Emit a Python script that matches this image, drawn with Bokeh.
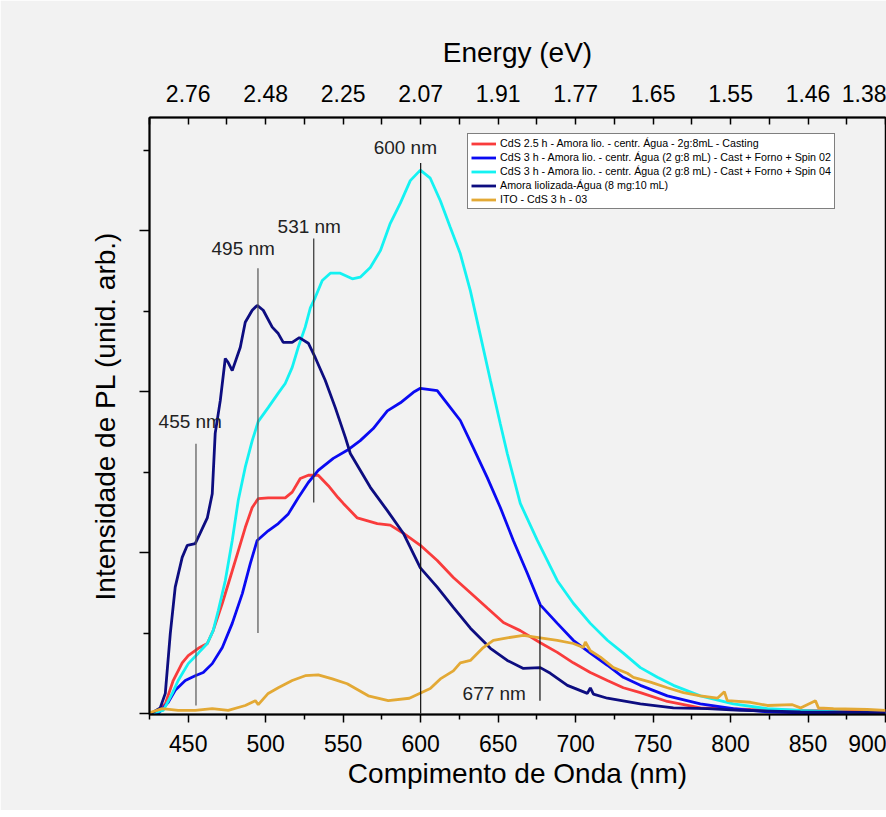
from bokeh.plotting import figure
from bokeh.models import Range1d, LinearAxis, FixedTicker
from bokeh.embed import file_html
from bokeh.resources import INLINE
from bokeh.core.properties import value

# ---------------- data (wavelength nm, PL intensity arb. units) ----------------
red_nm = [425, 428.7, 435.2, 440.3, 446.1, 450.0, 456.5, 462.3, 466.1, 472.0, 477.1, 482.3, 486.8,
          491.3, 495.2, 501.6, 508.1, 512.6, 517.1, 522.3, 527.5, 533.9, 540.4, 546.8, 550.1, 559.1,
          572.0, 580.4, 588.8, 599.8, 610.7, 621.1, 632.1, 643.0, 653.4, 664.3, 677.2, 688.2, 698.5,
          709.5, 720.5, 730.8, 741.8, 759.2, 780.5, 812.8, 845.1, 900]
red_i = [0.0, 0.01, 0.12, 0.41, 0.63, 0.72, 0.81, 0.87, 1.03, 1.37, 1.69, 2.02, 2.31,
         2.56, 2.67, 2.68, 2.68, 2.68, 2.75, 2.92, 2.96, 2.96, 2.83, 2.68, 2.61, 2.43,
         2.36, 2.34, 2.24, 2.09, 1.90, 1.69, 1.50, 1.31, 1.13, 1.03, 0.88, 0.76, 0.63,
         0.51, 0.41, 0.32, 0.26, 0.15, 0.07, 0.05, 0.04, 0.02]

blue_nm = [425, 430.6, 437.1, 441.6, 448.1, 454.5, 459.7, 465.5, 472.0, 478.4, 484.9, 490.0, 494.5,
           501.6, 508.1, 514.6, 521.0, 527.5, 533.9, 543.6, 552.6, 561.0, 569.4, 578.5, 586.9, 595.3,
           599.8, 610.7, 617.2, 625.6, 634.0, 643.0, 651.4, 659.8, 668.9, 677.2, 688.2, 698.5, 709.5,
           720.5, 730.8, 741.8, 759.2, 780.5, 801.8, 823.8, 845.1, 900]
blue_i = [0.0, 0.0, 0.14, 0.29, 0.41, 0.47, 0.51, 0.62, 0.82, 1.12, 1.49, 1.86, 2.15,
          2.27, 2.36, 2.48, 2.68, 2.87, 3.02, 3.17, 3.27, 3.39, 3.54, 3.76, 3.86, 3.99,
          4.04, 4.01, 3.85, 3.64, 3.30, 2.93, 2.56, 2.15, 1.74, 1.35, 1.12, 0.91, 0.75,
          0.60, 0.45, 0.35, 0.22, 0.12, 0.06, 0.02, 0.01, 0.01]

cyan_nm = [425, 433.9, 439.7, 443.5, 450.0, 456.5, 462.3, 466.1, 469.4, 473.9, 478.4, 482.3, 486.8,
           491.3, 495.2, 501.6, 508.1, 512.6, 517.1, 521.0, 525.5, 528.8, 532.0, 536.5, 541.7, 548.1,
           555.9, 561.0, 567.5, 574.0, 580.4, 586.9, 593.3, 599.8, 606.2, 612.7, 619.1, 625.6, 632.1,
           638.5, 645.0, 651.4, 655.9, 664.3, 675.3, 688.2, 698.5, 709.5, 720.5, 730.8, 741.8, 752.8,
           763.1, 780.5, 801.8, 823.8, 845.1, 900]
cyan_i = [0.0, 0.04, 0.25, 0.41, 0.62, 0.75, 0.87, 1.03, 1.28, 1.65, 2.15, 2.65, 3.06,
          3.39, 3.63, 3.80, 3.98, 4.10, 4.30, 4.55, 4.80, 5.04, 5.17, 5.38, 5.47, 5.47,
          5.40, 5.42, 5.54, 5.75, 6.09, 6.34, 6.62, 6.75, 6.65, 6.37, 6.04, 5.71, 5.25,
          4.70, 4.14, 3.60, 3.23, 2.61, 2.15, 1.65, 1.37, 1.12, 0.91, 0.75, 0.57, 0.45,
          0.35, 0.22, 0.12, 0.06, 0.04, 0.0]

navy_nm = [425, 426.8, 431.9, 435.2, 438.4, 441.6, 446.1, 449.4, 454.5, 457.7, 462.3, 465.5, 467.4,
           470.7, 473.9, 475.8, 478.4, 483.6, 486.8, 491.3, 494.5, 498.4, 504.2, 508.1, 511.3, 517.1,
           521.7, 527.5, 532.0, 538.4, 544.9, 551.4, 554.6, 567.5, 578.5, 588.8, 599.8, 610.7, 621.1,
           632.1, 645.0, 655.9, 666.3, 677.2, 683.7, 694.7, 707.6, 709.5, 711.5, 720.5, 741.8, 763.1,
           785.1, 806.4, 845.1, 900]
navy_i = [0.0, 0.01, 0.07, 0.25, 0.99, 1.57, 1.94, 2.09, 2.11, 2.24, 2.43, 2.73, 3.48,
          3.89, 4.41, 4.36, 4.26, 4.55, 4.86, 5.01, 5.07, 5.01, 4.80, 4.72, 4.61, 4.61,
          4.67, 4.60, 4.42, 4.14, 3.80, 3.43, 3.23, 2.81, 2.52, 2.24, 1.81, 1.57, 1.32,
          1.06, 0.81, 0.66, 0.56, 0.57, 0.50, 0.35, 0.25, 0.32, 0.24, 0.19, 0.12, 0.07,
          0.06, 0.04, 0.02, 0.01]

ito_nm = [425, 433.2, 443.5, 454.5, 465.5, 475.8, 486.8, 493.3, 495.2, 501.6, 508.1, 517.1, 525.5,
          533.9, 543.0, 552.6, 566.2, 579.1, 592.7, 606.2, 612.7, 621.1, 625.6, 632.1, 640.4, 646.9,
          655.9, 666.3, 677.2, 688.2, 698.5, 705.0, 706.3, 709.5, 716.0, 724.4, 733.4, 737.3, 748.3,
          759.2, 769.6, 780.5, 791.5, 796.0, 797.9, 812.8, 823.8, 839.9, 845.1, 854.8, 856.7, 866.4,
          888.3, 900]
ito_i = [0.01, 0.06, 0.04, 0.04, 0.06, 0.04, 0.10, 0.16, 0.11, 0.25, 0.32, 0.41, 0.47,
         0.48, 0.43, 0.37, 0.22, 0.16, 0.19, 0.31, 0.43, 0.53, 0.63, 0.66, 0.82, 0.91,
         0.94, 0.97, 0.94, 0.91, 0.87, 0.82, 0.89, 0.78, 0.70, 0.57, 0.50, 0.45, 0.39,
         0.32, 0.26, 0.22, 0.19, 0.27, 0.16, 0.14, 0.10, 0.11, 0.07, 0.16, 0.07, 0.06,
         0.05, 0.04]

series_labels = [
    "CdS 2.5 h - Amora lio. - centr. Água - 2g:8mL - Casting",
    "CdS 3 h - Amora lio. - centr. Água (2 g:8 mL) - Cast + Forno + Spin 02",
    "CdS 3 h - Amora lio. - centr. Água (2 g:8 mL) - Cast + Forno + Spin 04",
    "Amora liolizada-Água (8 mg:10 mL)",
    "ITO - CdS 3 h - 03",
]

# peak markers
peak_nm = [455, 495, 531, 600, 677]
peak_lo = [0.10, 1.00, 2.62, 0.00, 0.16]
peak_hi = [3.35, 5.53, 5.90, 6.84, 1.35]
peak_text = ["455 nm", "495 nm", "531 nm", "600 nm", "677 nm"]
peak_text_x = [451.3, 485.5, 528.1, 590.1, 647.5]
peak_text_y = [3.63, 5.78, 6.05, 7.03, 0.25]

# axis ticks
wl_ticks = [450, 500, 550, 600, 650, 700, 750, 800, 850, 900]
wl_minor = [425, 475, 525, 575, 625, 675, 725, 775, 825, 875]
energy_labels = ["2.76", "2.48", "2.25", "2.07", "1.91", "1.77", "1.65", "1.55", "1.46", "1.38"]
y_major = [0, 2, 4, 6]
y_minor = [1, 3, 5, 7]

# ---------------- figure ----------------
BG = "#f2f2f2"
FONT = "Liberation Sans"

p = figure(width=886, height=810, output_backend="svg", toolbar_location=None,
           x_range=Range1d(425, 900), y_range=Range1d(-0.012, 7.404),
           min_border_left=149, min_border_right=1, min_border_top=117, min_border_bottom=96,
           background_fill_color=BG, border_fill_color=BG)
p.xgrid.visible = False
p.ygrid.visible = False
p.outline_line_color = "black"
p.outline_line_width = 1.5

colors = ["#f93c3c", "#0a0af2", "#14f2f2", "#0d0d80", "#e3a935"]
xs = [red_nm, blue_nm, cyan_nm, navy_nm, ito_nm]
ys = [red_i, blue_i, cyan_i, navy_i, ito_i]
for xv, yv, c, lab in zip(xs, ys, colors, series_labels):
    p.line(xv, yv, line_color=c, line_width=2.8, legend_label=lab)

p.segment(x0=peak_nm, y0=peak_lo, x1=peak_nm, y1=peak_hi,
          line_color=["#555555", "#555555", "#333333", "#111111", "#111111"], line_width=1.2)
p.text(x=peak_text_x, y=peak_text_y, text=peak_text, text_align="center", text_baseline="middle",
       text_font=value(FONT), text_font_size="19px", text_color="#222222")

# bottom axis
xa = p.xaxis[0]
xa.ticker = FixedTicker(ticks=wl_ticks, minor_ticks=wl_minor)
xa.axis_label = "Compimento de Onda (nm)"
xa.axis_label_text_font = FONT
xa.axis_label_text_font_size = "28px"
xa.axis_label_text_font_style = "normal"
xa.axis_label_text_color = "black"
xa.axis_label_standoff = 3
xa.major_label_text_font = FONT
xa.major_label_text_font_size = "23px"
xa.major_label_text_color = "black"
xa.major_label_standoff = 12
xa.major_tick_in = 0
xa.major_tick_out = 8
xa.minor_tick_in = 0
xa.minor_tick_out = 5
xa.axis_line_width = 2
xa.major_tick_line_width = 1.5
xa.minor_tick_line_width = 1.5

# left axis
ya = p.yaxis[0]
ya.ticker = FixedTicker(ticks=y_major, minor_ticks=y_minor)
ya.major_label_overrides = {t: "" for t in y_major}
ya.major_label_standoff = 0
ya.axis_label = "Intensidade de PL (unid. arb.)"
ya.axis_label_text_font = FONT
ya.axis_label_text_font_size = "28px"
ya.axis_label_text_font_style = "normal"
ya.axis_label_text_color = "black"
ya.axis_label_standoff = 19
ya.major_tick_in = 0
ya.major_tick_out = 10
ya.minor_tick_in = 0
ya.minor_tick_out = 6
ya.axis_line_width = 2
ya.major_tick_line_width = 1.5
ya.minor_tick_line_width = 1.5

# top axis (energy)
top = LinearAxis(ticker=FixedTicker(ticks=wl_ticks, minor_ticks=wl_minor),
                 major_label_overrides={t: lab for t, lab in zip(wl_ticks, energy_labels)})
top.axis_label = "Energy (eV)"
top.axis_label_text_font = FONT
top.axis_label_text_font_size = "28px"
top.axis_label_text_font_style = "normal"
top.axis_label_text_color = "black"
top.axis_label_standoff = 14
top.major_label_text_font = FONT
top.major_label_text_font_size = "23px"
top.major_label_text_color = "black"
top.major_label_standoff = 16
top.major_tick_in = 7
top.major_tick_out = 0
top.minor_tick_in = 7
top.minor_tick_out = 0
top.axis_line_width = 2
top.major_tick_line_width = 1.5
top.minor_tick_line_width = 1.5
p.add_layout(top, "above")

# legend
lg = p.legend[0]
lg.location = (318, 505)
lg.margin = 0
lg.padding = 3
lg.spacing = 2
lg.glyph_width = 25
lg.glyph_height = 11
lg.label_height = 11
lg.label_standoff = 4
lg.label_text_font = FONT
lg.label_text_font_size = "10.7px"
lg.label_text_color = "black"
lg.border_line_color = "black"
lg.border_line_width = 1
lg.background_fill_color = "white"
lg.background_fill_alpha = 1.0

html = file_html(p, INLINE)
html = html.replace("<body>", '<body style="background-color:#f2f2f2;">', 1)
open("out.html", "w").write(html)
